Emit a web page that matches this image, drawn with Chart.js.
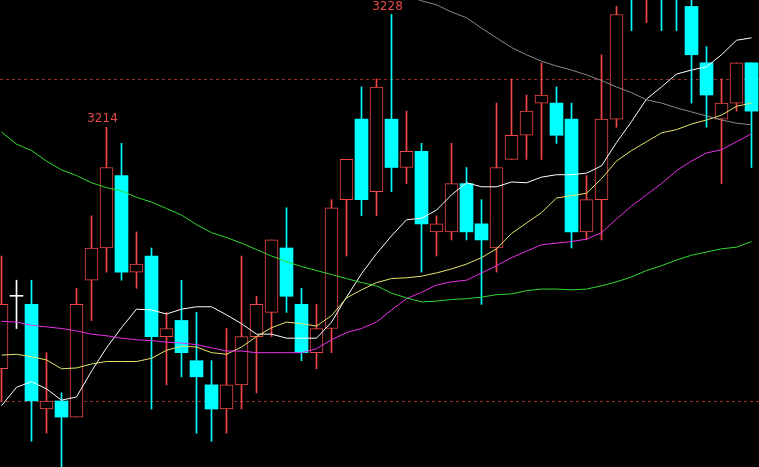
<!DOCTYPE html>
<html>
<head>
<meta charset="utf-8">
<script src="https://cdn.jsdelivr.net/npm/chart.js@4.4.1/dist/chart.umd.min.js"></script>
<style>
    html, body { margin: 0; padding: 0; background: #000; overflow: hidden; }
    canvas { display: block; }
</style>
</head>
<body>
<canvas id="klineChart" width="759" height="467"></canvas>
<script>
// Datos de velas (precio)
const days = Array.from({ length: 51 }, (_, i) => 'D' + (i + 1));
const opens  = [3184, 3193, 3192, 3179, 3180, 3178, 3195, 3199, 3208, 3196,
                3198, 3188, 3190, 3185, 3182, 3179, 3182, 3188, 3191, 3199,
                3192, 3186, 3189, 3205, 3215, 3206, 3215, 3209, 3211, 3201,
                3201, 3207, 3202, 3199, 3210, 3213, 3217, 3217, 3215, 3201,
                3205, 3215, 3237, 3231, 3238, 3234, 3229, 3222, 3215, 3217, 3222];
const highs  = [3198, 3195, 3195, 3186, 3181, 3194, 3203, 3214, 3212, 3201,
                3199, 3191, 3195, 3191, 3185, 3189, 3198, 3193, 3200, 3204,
                3194, 3192, 3205, 3210, 3219, 3220, 3228, 3216, 3212, 3203,
                3212, 3209, 3205, 3217, 3220, 3218, 3222, 3219, 3217, 3208,
                3223, 3229, 3239, 3240, 3240, 3236, 3231, 3224, 3220, 3222, 3222];
const lows   = [3180, 3189, 3175, 3176, 3171, 3178, 3190, 3196, 3195, 3194,
                3179, 3182, 3183, 3176, 3175, 3176, 3179, 3181, 3188, 3191,
                3185, 3184, 3186, 3198, 3203, 3203, 3206, 3207, 3196, 3198,
                3200, 3200, 3192, 3196, 3210, 3210, 3210, 3212, 3199, 3200,
                3200, 3214, 3226, 3227, 3226, 3226, 3217, 3214, 3207, 3216, 3209];
const closes = [3192, 3193, 3180, 3180, 3178, 3192, 3199, 3209, 3196, 3197,
                3188, 3189, 3186, 3183, 3179, 3182, 3188, 3192, 3200, 3193,
                3186, 3189, 3204, 3210, 3205, 3219, 3209, 3211, 3202, 3202,
                3207, 3201, 3200, 3209, 3213, 3216, 3218, 3213, 3201, 3205,
                3215, 3228, 3231, 3238, 3232, 3231, 3223, 3218, 3217, 3222, 3216];

// Medias móviles
const maWhite  = [3179.4, 3181.7, 3182.4, 3181.5, 3180.1, 3180.5, 3183.7, 3186.6, 3189.1, 3191.4,
                  3191.3, 3190.8, 3191.4, 3191.7, 3191.7, 3190.7, 3189.6, 3188.3, 3188.3, 3187.8,
                  3187.8, 3187.8, 3189.8, 3192.9, 3195.8, 3198.3, 3200.5, 3202.5, 3202.7, 3203.7,
                  3205.6, 3207.1, 3206.6, 3206.6, 3207.2, 3207.1, 3207.8, 3208.1, 3208.1, 3208.3,
                  3209.2, 3212.1, 3214.7, 3217.5, 3219.0, 3220.6, 3221.1, 3221.5, 3223.0, 3224.8, 3225.1];
const maYellow = [3185.7, 3185.8, 3185.5, 3185.1, 3184.0, 3184.1, 3184.6, 3184.9, 3184.9, 3184.9,
                  3185.3, 3186.3, 3186.8, 3186.7, 3186.0, 3185.8, 3186.7, 3188.0, 3189.1, 3189.8,
                  3189.6, 3189.3, 3190.6, 3192.8, 3193.8, 3194.7, 3195.2, 3195.3, 3195.5, 3195.9,
                  3196.4, 3197.0, 3197.8, 3198.9, 3200.8, 3202.1, 3203.4, 3205.2, 3205.5, 3205.8,
                  3207.6, 3209.8, 3211.1, 3212.2, 3213.3, 3213.7, 3214.4, 3214.9, 3215.5, 3216.6, 3217.0];
const maPink   = [3189.9, 3189.8, 3189.4, 3189.2, 3189.0, 3188.7, 3188.3, 3188.1, 3187.8, 3187.6,
                  3187.5, 3187.3, 3187.2, 3187.0, 3186.6, 3186.2, 3186.2, 3186.0, 3186.0, 3186.0,
                  3186.0, 3186.5, 3187.6, 3188.5, 3189.0, 3189.8, 3191.3, 3192.7, 3193.5, 3194.4,
                  3194.8, 3195.0, 3195.9, 3196.8, 3197.8, 3198.6, 3199.4, 3199.6, 3199.8, 3200.1,
                  3200.9, 3202.6, 3204.2, 3205.6, 3207.0, 3208.6, 3209.8, 3210.8, 3211.2, 3212.2, 3213.2];
const maGreen  = [3213.4, 3211.9, 3211.1, 3209.8, 3208.7, 3208.0, 3207.1, 3206.5, 3206.1, 3205.3,
                  3204.7, 3203.9, 3203.1, 3201.9, 3200.9, 3200.3, 3199.6, 3198.8, 3198.0, 3197.3,
                  3196.7, 3196.2, 3195.7, 3195.2, 3194.7, 3194.3, 3193.4, 3192.8, 3192.3, 3192.4,
                  3192.6, 3192.7, 3192.9, 3193.2, 3193.3, 3193.7, 3193.9, 3193.9, 3193.8, 3193.9,
                  3194.3, 3194.8, 3195.4, 3196.2, 3196.8, 3197.5, 3198.1, 3198.5, 3198.9, 3199.1, 3199.8];
const maGray   = [null, null, null, null, null, null, null, null, null, null,
                  null, null, null, null, null, null, null, null, null, null,
                  null, null, null, null, null, null, 3231.5, 3230.4, 3229.7, 3229.2,
                  3228.3, 3227.6, 3226.3, 3225.1, 3223.9, 3223.0, 3222.2, 3221.6, 3221.1, 3220.5,
                  3219.8, 3219.0, 3218.3, 3217.4, 3217.0, 3216.4, 3215.9, 3215.4, 3214.9, 3214.5, 3214.3];

// Niveles punteados y máximos marcados
const levels = [3220, 3180];
const peakMarks = [7, 26];

const colors = {
    up: '#f04848',
    down: '#00ffff',
    flat: '#ffffff',
    level: '#a02a2a'
};

function candleColor(i) {
    if (closes[i] > opens[i]) return colors.up;
    if (closes[i] < opens[i]) return colors.down;
    return colors.flat;
}

const levelsPlugin = {
    id: 'levels',
    beforeDatasetsDraw(chart) {
        const { ctx, scales } = chart;
        ctx.save();
        ctx.strokeStyle = colors.level;
        ctx.lineWidth = 1;
        ctx.setLineDash([3, 3]);
        levels.forEach(v => {
            const y = Math.round(scales.y.getPixelForValue(v)) + 0.5;
            ctx.beginPath();
            ctx.moveTo(0, y);
            ctx.lineTo(chart.width, y);
            ctx.stroke();
        });
        ctx.restore();
    },
    afterDatasetsDraw(chart) {
        const { ctx, scales } = chart;
        ctx.save();
        ctx.fillStyle = '#e84a4a';
        ctx.font = '12px "DejaVu Sans", sans-serif';
        ctx.textAlign = 'center';
        ctx.textBaseline = 'bottom';
        peakMarks.forEach(i => {
            const x = scales.x.getPixelForValue(i) - 4;
            const y = scales.y.getPixelForValue(highs[i]) - 2;
            ctx.fillText(String(highs[i]), x, y);
        });
        ctx.restore();
    }
};

function maLine(data, color) {
    return {
        type: 'line',
        data: data,
        borderColor: color,
        borderWidth: 1,
        pointRadius: 0,
        tension: 0,
        fill: false,
        clip: false,
        order: 0
    };
}

new Chart(document.getElementById('klineChart').getContext('2d'), {
    type: 'bar',
    data: {
        labels: days,
        datasets: [
            maLine(maGray, '#8a8a8a'),
            maLine(maGreen, '#30d830'),
            maLine(maPink, '#e830e8'),
            maLine(maYellow, '#e6e66a'),
            maLine(maWhite, '#ffffff'),
            {
                // cuerpos
                data: opens.map((o, i) => [o, closes[i]]),
                grouped: false,
                barThickness: 13,
                minBarLength: 1,
                borderSkipped: false,
                borderWidth: ctx => candleColor(ctx.dataIndex) === colors.up ? 1 : 0,
                borderColor: ctx => candleColor(ctx.dataIndex),
                backgroundColor: ctx => candleColor(ctx.dataIndex) === colors.up ? '#000000' : candleColor(ctx.dataIndex),
                clip: false,
                order: 1
            },
            {
                // mechas
                data: lows.map((l, i) => [l, highs[i]]),
                grouped: false,
                barThickness: 1,
                borderWidth: 0,
                backgroundColor: ctx => candleColor(ctx.dataIndex),
                clip: false,
                order: 2
            }
        ]
    },
    options: {
        responsive: false,
        animation: false,
        layout: { padding: { left: 1.5, right: 7.5, top: 0, bottom: 0 } },
        plugins: {
            legend: { display: false },
            tooltip: { enabled: false }
        },
        scales: {
            x: { display: false, offset: false },
            y: { display: false, min: 3171.8, max: 3229.8 }
        }
    },
    plugins: [levelsPlugin]
});
</script>
</body>
</html>
